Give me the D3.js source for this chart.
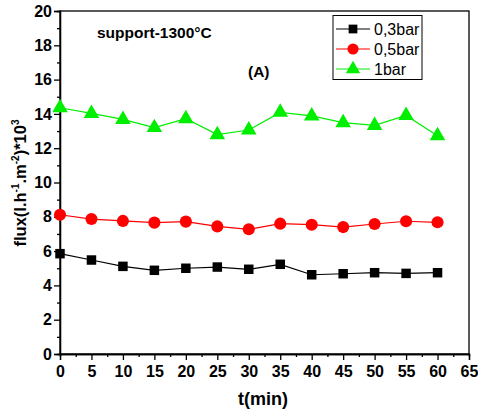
<!DOCTYPE html>
<html><head><meta charset="utf-8">
<script src="https://cdn.jsdelivr.net/npm/d3@7"></script>
<style>body{margin:0;background:#fff;} svg{display:block;font-family:"Liberation Sans",Arial,sans-serif;}</style>
</head><body>
<script>
const times = [0,5,10,15,20,25,30,35,40,45,50,55,60];
const bar03 = [5.85,5.48,5.11,4.88,5.0,5.07,4.94,5.23,4.62,4.68,4.74,4.70,4.74];
const bar05 = [8.12,7.87,7.76,7.66,7.72,7.44,7.27,7.60,7.54,7.40,7.58,7.74,7.68];
const bar1 = [14.36,14.03,13.68,13.2,13.72,12.79,13.06,14.09,13.88,13.49,13.33,13.91,12.73];
const seriesNames = ["0,3bar","0,5bar","1bar"];
const xTicks = [0,5,10,15,20,25,30,35,40,45,50,55,60,65];
const yTicks = [0,2,4,6,8,10,12,14,16,18,20];

const W=478,H=417;
const svg=d3.select("body").append("svg").attr("width",W).attr("height",H);
const x=d3.scaleLinear().domain([0,65]).range([60,469]);
const y=d3.scaleLinear().domain([0,20]).range([354,11]);

// frame
svg.append("rect").attr("x",60).attr("y",11).attr("width",409).attr("height",343)
  .attr("fill","none").attr("stroke","#000").attr("stroke-width",1.3);

// axes
const xAxis=svg.append("g").attr("transform","translate(0,354)")
  .call(d3.axisBottom(x).tickValues(xTicks).tickSize(6).tickPadding(3).tickFormat(d3.format("d")));
const xMinor=svg.append("g").attr("transform","translate(0,354)")
  .call(d3.axisBottom(x).tickValues(d3.range(2.5,65,5)).tickSize(3).tickFormat(""));
const yAxis=svg.append("g").attr("transform","translate(60,0)")
  .call(d3.axisLeft(y).tickValues(yTicks).tickSize(6).tickPadding(2).tickFormat(d3.format("d")));
const yMinor=svg.append("g").attr("transform","translate(60,0)")
  .call(d3.axisLeft(y).tickValues(d3.range(1,20,2)).tickSize(3).tickFormat(""));
[xAxis,xMinor,yAxis,yMinor].forEach(g=>{
  g.select(".domain").attr("stroke","#000").attr("stroke-width",1.3);
  g.selectAll("line").attr("stroke","#000").attr("stroke-width",1.3);
  g.selectAll("text").attr("font-size",16).attr("font-weight","bold").attr("fill","#000")
    .attr("font-family","'Liberation Sans',Arial,sans-serif");
});
xAxis.selectAll("text").attr("dy","0.85em");

// lines
const colors=["#000000","#ff0000","#00ee00"];
const data=[bar03,bar05,bar1];
const line=d3.line().x((d,i)=>x(times[i])).y(d=>y(d));
const symbols=[d3.symbolSquare,d3.symbolCircle,d3.symbolTriangle];
const sizes=[90,115,105];
data.forEach((vals,k)=>{
  svg.append("path").datum(vals).attr("d",line).attr("fill","none")
    .attr("stroke",colors[k]).attr("stroke-width",1.2);
  svg.append("g").selectAll("path").data(vals).join("path")
    .attr("d",d3.symbol().type(symbols[k]).size(sizes[k]))
    .attr("transform",(d,i)=>`translate(${x(times[i])},${y(d)})`)
    .attr("fill",colors[k]);
});

// legend
const lg=svg.append("g");
lg.append("rect").attr("x",333).attr("y",15.5).attr("width",89).attr("height",64)
  .attr("fill","#fff").attr("stroke","#000").attr("stroke-width",1);
seriesNames.forEach((n,k)=>{
  const yy=29+k*20;
  lg.append("line").attr("x1",336).attr("x2",370).attr("y1",yy).attr("y2",yy)
    .attr("stroke",colors[k]).attr("stroke-width",1.2);
  lg.append("path").attr("d",d3.symbol().type(symbols[k]).size(sizes[k]*0.85)())
    .attr("transform",`translate(353,${yy})`).attr("fill",colors[k]);
  lg.append("text").attr("x",374).attr("y",yy+5.5).text(n)
    .attr("font-size",16).attr("fill","#000");
});

// annotations
svg.append("text").attr("x",97).attr("y",38).text("support-1300°C")
  .attr("font-size",15.5).attr("font-weight","bold");
svg.append("text").attr("x",248).attr("y",77).text("(A)")
  .attr("font-size",15.5).attr("font-weight","bold");

// axis titles
svg.append("text").attr("x",263).attr("y",405).attr("text-anchor","middle").text("t(min)")
  .attr("font-size",18).attr("font-weight","bold");
const yt=svg.append("text").attr("transform","translate(26,183) rotate(-90)")
  .attr("text-anchor","middle").attr("font-size",16.5).attr("font-weight","bold");
yt.append("tspan").text("flux(l.h");
yt.append("tspan").text("-1").attr("font-size",10).attr("dy",-7);
yt.append("tspan").text(".m").attr("font-size",16.5).attr("dy",7);
yt.append("tspan").text("-2").attr("font-size",10).attr("dy",-7);
yt.append("tspan").text(")*10").attr("font-size",16.5).attr("dy",7);
yt.append("tspan").text("3").attr("font-size",10).attr("dy",-7);
</script>
</body></html>
